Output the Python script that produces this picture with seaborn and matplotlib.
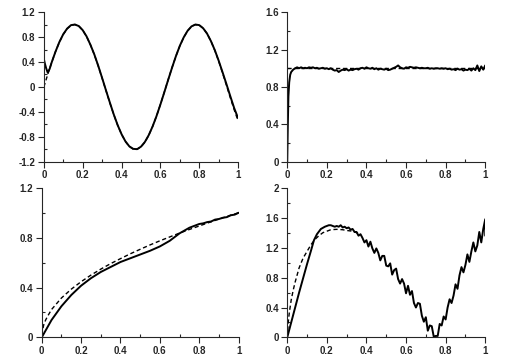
import numpy as np
import matplotlib
matplotlib.use("Agg")
import matplotlib.pyplot as plt
import seaborn as sns
from matplotlib.ticker import MultipleLocator, FuncFormatter

# %% data read off the reference
# panel 1: oscillating response vs reference sine
p1_x_ref = np.linspace(0, 1, 51)
p1_y_ref = [0.0, 0.199, 0.389, 0.565, 0.717, 0.841, 0.932, 0.985, 1.0, 0.974,
            0.909, 0.808, 0.675, 0.516, 0.335, 0.141, -0.058, -0.256, -0.443, -0.612,
            -0.757, -0.872, -0.952, -0.994, -0.996, -0.959, -0.884, -0.773, -0.631, -0.465,
            -0.279, -0.083, 0.117, 0.312, 0.494, 0.657, 0.794, 0.899, 0.968, 0.998,
            0.989, 0.941, 0.855, 0.734, 0.585, 0.412, 0.223, 0.026, -0.174, -0.366,
            -0.544]
p1_x_est = [0.0, 0.005, 0.012, 0.02, 0.03] + list(np.linspace(0.04, 1, 49))
p1_y_est = [0.45, 0.38, 0.30, 0.23, 0.29,
            0.39, 0.565, 0.72, 0.845, 0.935, 0.99, 1.0, 0.975,
            0.91, 0.81, 0.675, 0.52, 0.34, 0.145, -0.055, -0.25, -0.44, -0.61,
            -0.755, -0.87, -0.95, -0.99, -0.995, -0.955, -0.88, -0.77, -0.63, -0.465,
            -0.28, -0.085, 0.115, 0.31, 0.495, 0.66, 0.795, 0.9, 0.97, 1.0,
            0.99, 0.94, 0.855, 0.735, 0.59, 0.42, 0.235, 0.045, -0.15, -0.34,
            -0.50]

# panel 2: step response settling at 1
p2_x_ref = [0.0, 1.0]
p2_y_ref = [1.0, 1.0]
p2_x_est = [0.0, 0.003, 0.006, 0.01, 0.015, 0.02, 0.03, 0.04] + list(np.linspace(0.05, 1, 96))
p2_y_est = [0.0, 0.4, 0.7, 0.85, 0.93, 0.96, 0.985, 1.0,
            1.01, 1.0, 1.01, 1.0, 1.005, 1.0, 1.01, 1.005, 1.01, 1.0,
            1.005, 0.995, 1.0, 1.005, 0.995, 1.0, 0.99, 1.0, 0.985, 0.975,
            0.98, 0.96, 0.975, 0.985, 0.98, 0.99, 0.975, 0.985, 0.98, 0.99,
            0.995, 0.985, 1.0, 1.005, 0.995, 1.01, 1.0, 0.995, 1.005, 0.99,
            1.0, 0.985, 0.995, 0.99, 0.985, 0.995, 0.98, 0.985, 0.995, 1.005,
            1.015, 1.03, 1.01, 1.0, 0.995, 1.01, 1.005, 1.015, 1.01, 1.005,
            1.01, 1.005, 1.0, 1.005, 1.0, 1.0, 1.005, 0.995, 1.0, 0.995,
            1.0, 1.0, 0.995, 1.0, 0.995, 1.0, 0.99, 0.995, 0.985, 0.99,
            0.98, 0.995, 0.985, 0.99, 0.975, 0.985, 0.98, 0.995, 0.975, 1.0,
            0.98, 1.03, 0.97, 1.02, 0.985, 1.03]

# panel 3: concave growth curves
p3_x_ref = [0.0, 0.01, 0.02, 0.03, 0.05, 0.1, 0.15, 0.2, 0.25, 0.3, 0.35, 0.4, 0.45,
            0.5, 0.55, 0.6, 0.65, 0.7, 0.75, 0.8, 0.85, 0.9, 0.95, 1.0]
p3_y_ref = [0.02, 0.1, 0.14, 0.17, 0.224, 0.316, 0.387, 0.447, 0.5, 0.548, 0.592, 0.632, 0.671,
            0.707, 0.742, 0.775, 0.806, 0.837, 0.866, 0.894, 0.922, 0.949, 0.975, 1.0]
p3_x_est = [0.0, 0.05, 0.1, 0.15, 0.2, 0.25, 0.3, 0.35, 0.4, 0.45, 0.5, 0.55, 0.6, 0.65,
            0.7, 0.75, 0.8, 0.82, 0.84, 0.86, 0.88, 0.9, 0.92, 0.94, 0.96, 0.98, 1.0]
p3_y_est = [0.0, 0.14, 0.25, 0.34, 0.415, 0.475, 0.525, 0.565, 0.605, 0.635, 0.665, 0.695,
            0.73, 0.775, 0.835, 0.88, 0.91, 0.915, 0.925, 0.93, 0.945, 0.95, 0.96, 0.965,
            0.98, 0.985, 1.0]

# panel 4: rise, peak and noisy V-shape
p4_x_ref = [0.0, 0.005, 0.01, 0.02, 0.03, 0.04, 0.06, 0.08, 0.10, 0.12, 0.14, 0.16, 0.18,
            0.20, 0.22, 0.25, 0.28, 0.30, 0.33, 0.36]
p4_y_ref = [0.0, 0.2, 0.32, 0.5, 0.63, 0.74, 0.93, 1.06, 1.15, 1.24, 1.31, 1.36, 1.40,
            1.42, 1.44, 1.445, 1.44, 1.43, 1.42, 1.39]
p4_x_est = ([0.0, 0.02, 0.04, 0.06, 0.08, 0.10, 0.12, 0.135, 0.15, 0.17, 0.19, 0.21, 0.22,
             0.23, 0.24, 0.25, 0.26, 0.27, 0.28, 0.29, 0.30, 0.31, 0.32, 0.33, 0.34]
            + list(np.linspace(0.35, 1, 66)) + [1.0])
p4_y_est = [0.0, 0.2, 0.4, 0.6, 0.79, 0.98, 1.16, 1.30, 1.38, 1.45, 1.48, 1.50, 1.50,
            1.49, 1.48, 1.49, 1.48, 1.50, 1.47, 1.48, 1.46, 1.47, 1.44, 1.45, 1.41,
            1.41, 1.36, 1.38, 1.33, 1.27, 1.30, 1.215, 1.28, 1.19, 1.13,
            1.19, 1.13, 1.03, 1.09, 1.09, 0.96, 0.95, 0.99, 0.84, 0.90,
            0.92, 0.78, 0.72, 0.78, 0.72, 0.59, 0.69, 0.57, 0.62, 0.46,
            0.40, 0.46, 0.45, 0.29, 0.21, 0.27, 0.09, 0.16, 0.15, 0.01,
            0.02, 0.02, 0.18, 0.16, 0.28, 0.24, 0.40, 0.51, 0.46, 0.56,
            0.71, 0.65, 0.83, 0.94, 0.87, 0.97, 1.11, 1.01, 1.15, 1.27,
            1.15, 1.23, 1.41, 1.27, 1.45, 1.58, 1.36]

panels = [
    (p1_x_est, p1_y_est, p1_x_ref, p1_y_ref, (-1.2, 1.2)),
    (p2_x_est, p2_y_est, p2_x_ref, p2_y_ref, (0, 1.6)),
    (p3_x_est, p3_y_est, p3_x_ref, p3_y_ref, (0, 1.2)),
    (p4_x_est, p4_y_est, p4_x_ref, p4_y_ref, (0, 2)),
]

# %% plot
sns.set_style("ticks")
plt.rcParams["font.family"] = ["Liberation Sans", "DejaVu Sans"]
plt.rcParams["font.weight"] = "bold"

fig = plt.figure(figsize=(5.28, 3.64), dpi=100)
boxes = [
    [0.083, 0.555, 0.368, 0.412],
    [0.544, 0.555, 0.375, 0.412],
    [0.079, 0.073, 0.373, 0.411],
    [0.544, 0.073, 0.375, 0.411],
]

fmt = FuncFormatter(lambda v, pos: f"{v:g}")

for box, (xs, ys, xr, yr, ylim) in zip(boxes, panels):
    ax = fig.add_axes(box)
    sns.lineplot(x=xr, y=yr, ax=ax, color="black", linestyle=(0, (3, 2)),
                 linewidth=1.0, estimator=None, sort=False)
    sns.lineplot(x=xs, y=ys, ax=ax, color="black", linewidth=1.4,
                 estimator=None, sort=False)
    ax.set_xlim(0, 1)
    ax.set_ylim(*ylim)
    ax.xaxis.set_major_locator(MultipleLocator(0.2))
    ax.xaxis.set_minor_locator(MultipleLocator(0.1))
    ax.yaxis.set_major_locator(MultipleLocator(0.4))
    ax.yaxis.set_minor_locator(MultipleLocator(0.2))
    ax.xaxis.set_major_formatter(fmt)
    ax.yaxis.set_major_formatter(fmt)
    ax.tick_params(which="major", direction="out", length=4, width=0.8,
                   labelsize=7, pad=2)
    ax.tick_params(which="minor", direction="in", length=2.5, width=0.8)
    for lab in ax.get_xticklabels() + ax.get_yticklabels():
        lab.set_fontweight("bold")
    ax.set_xlabel("")
    ax.set_ylabel("")
    sns.despine(ax=ax)
    for s in ["left", "bottom"]:
        ax.spines[s].set_linewidth(0.8)

fig.savefig("out.png", dpi=100)
